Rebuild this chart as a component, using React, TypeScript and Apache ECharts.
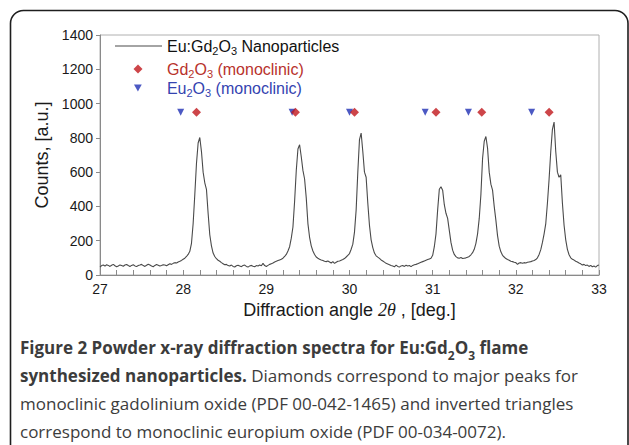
import React, { useEffect, useRef } from 'react';
import * as echarts from 'echarts';

// ---- data ----
const START_ANGLE = 27;
const ANGLE_STEP = 0.02;
// counts at 2θ = 27.00, 27.02, ..., 33.00
const counts = [
  // 27.00 - 27.48
  46, 55, 58, 52, 60, 56, 50, 57, 62, 54, 48, 53, 59, 55, 51, 58, 61, 55, 50, 56, 60, 53, 49, 55, 58,
  // 27.50 - 27.98
  62, 55, 50, 57, 63, 58, 52, 48, 56, 61, 57, 52, 55, 60, 58, 54, 60, 66, 62, 68, 72, 70, 76, 80, 85,
  // 28.00 - 28.48
  92, 98, 108, 120, 138, 185, 300, 470, 650, 770, 802, 720, 600, 538, 500, 360, 235, 170, 128, 108, 95, 86, 80, 72, 66,
  // 28.50 - 28.98
  60, 62, 55, 52, 58, 50, 47, 54, 57, 52, 49, 55, 58, 50, 46, 53, 56, 51, 48, 55, 52, 58, 54, 68, 55,
  // 29.00 - 29.48
  50, 56, 62, 66, 70, 76, 80, 84, 88, 92, 98, 108, 120, 140, 165, 215, 280, 430, 610, 735, 760, 690, 610, 560, 450,
  // 29.50 - 29.98
  300, 220, 170, 140, 120, 105, 98, 92, 88, 85, 80, 78, 82, 76, 70, 78, 68, 74, 80, 82, 86, 90, 96, 105, 115,
  // 30.00 - 30.48
  125, 150, 180, 250, 380, 600, 790, 828, 720, 600, 570, 420, 290, 205, 160, 128, 112, 104, 97, 88, 82, 75, 68, 64, 60,
  // 30.50 - 30.98
  55, 52, 48, 58, 50, 46, 53, 55, 50, 57, 52, 55, 49, 56, 60, 62, 66, 70, 74, 78, 82, 86, 90, 94, 98,
  // 31.00 - 31.48
  115, 165, 240, 380, 500, 515, 495, 410, 360, 330, 260, 190, 145, 120, 107, 100, 98, 102, 96, 98, 100, 104, 108, 118, 130,
  // 31.50 - 31.98
  150, 185, 240, 330, 470, 680, 780, 808, 740, 600, 530, 495, 400, 320, 230, 168, 135, 115, 105, 96, 90, 86, 80, 78, 74,
  // 32.00 - 32.48
  72, 62, 70, 72, 68, 72, 70, 74, 76, 78, 82, 85, 90, 100, 120, 148, 190, 240, 300, 420, 560, 720, 850, 892, 720,
  // 32.50 - 32.98
  600, 570, 585, 420, 290, 205, 150, 118, 100, 92, 87, 80, 76, 70, 65, 58, 62, 55, 58, 50, 56, 48, 52, 46, 55,
  // 33.00
  58,
];

const gdPeaks = [28.16, 29.35, 30.06, 31.04, 31.59, 32.4];
const euPeaks = [27.97, 29.31, 30.0, 30.91, 31.43, 32.19];
const MARKER_LEVEL = 950;

const X_MIN = 27;
const X_MAX = 33;
const X_INTERVAL = 1;
const Y_MIN = 0;
const Y_MAX = 1400;
const Y_INTERVAL = 200;

const SPECTRUM_NAME = 'Eu:Gd2O3 Nanoparticles';
const GD_NAME = 'Gd2O3 (monoclinic)';
const EU_NAME = 'Eu2O3 (monoclinic)';

const X_AXIS_NAME = 'Diffraction angle {i|2θ} , [deg.]';
const Y_AXIS_NAME = 'Counts, [a.u.]';

const CAPTION =
  '{b|Figure 2 Powder x-ray diffraction spectra for Eu:Gd}{bs|2}{b|O}{bs|3}{b| flame}\n' +
  '{b|synthesized nanoparticles.}{r| Diamonds correspond to major peaks for}\n' +
  '{r|monoclinic gadolinium oxide (PDF 00-042-1465) and inverted triangles}\n' +
  '{r|correspond to monoclinic europium oxide (PDF 00-034-0072).}';

const SANS = '"Liberation Sans", Arial, Helvetica, sans-serif';
const CAPTION_FONT = '"Open Sans", "Noto Sans", sans-serif';

const LINE_COLOR = '#4a4a4a';
const GD_COLOR = '#c0161c';
const EU_COLOR = '#1f2fb4';
const GD_TEXT = '#b8322c';
const EU_TEXT = '#3443b0';

const subscript = (name: string) => name.replace(/([A-Za-z])(\d)/g, '$1{s|$2}');

function legendFor(name: string, color: string, pad: number, opts: any) {
  return {
    data: [name],
    orient: 'vertical',
    padding: 0,
    selectedMode: false,
    formatter: (n: string) => (pad > 0 ? '{pad| }' : '') + subscript(n),
    textStyle: {
      color,
      fontFamily: SANS,
      fontSize: 16,
      lineHeight: 20,
      rich: {
        s: { color, fontFamily: SANS, fontSize: 11, lineHeight: 14, verticalAlign: 'bottom' },
        pad: { width: pad, fontSize: 16, lineHeight: 20 },
      },
    },
    ...opts,
  };
}

export default function App() {
  const ref = useRef<HTMLDivElement>(null);

  useEffect(() => {
    if (!ref.current) return;
    const chart = echarts.init(ref.current, undefined, { renderer: 'svg' });

    const spectrum = counts.map((c, i) => [
      Number((START_ANGLE + i * ANGLE_STEP).toFixed(2)),
      c,
    ]);
    const gdData = gdPeaks.map((x) => [x, MARKER_LEVEL]);
    const euData = euPeaks.map((x) => [x, MARKER_LEVEL]);

    const option: any = {
      animation: false,
      backgroundColor: '#ffffff',
      grid: {
        left: 100,
        right: 30,
        top: 35,
        bottom: 170,
        show: true,
        borderColor: '#b0b0b0',
        borderWidth: 1,
        backgroundColor: 'transparent',
      },
      xAxis: {
        type: 'value',
        min: X_MIN,
        max: X_MAX,
        interval: X_INTERVAL,
        name: X_AXIS_NAME,
        nameLocation: 'middle',
        nameGap: 24,
        nameTextStyle: {
          fontFamily: SANS,
          fontSize: 18,
          color: '#1a1a1a',
          rich: {
            i: { fontFamily: '"Liberation Serif", "Times New Roman", serif', fontStyle: 'italic', fontSize: 18, color: '#1a1a1a' },
          },
        },
        axisLine: { show: true, lineStyle: { color: '#8a8a8a', width: 1 } },
        axisTick: { show: true, inside: true, length: 5, lineStyle: { color: '#8a8a8a' } },
        minorTick: { show: true, splitNumber: 5, length: 5, lineStyle: { color: '#8a8a8a' } },
        splitLine: { show: false },
        axisLabel: { fontFamily: SANS, fontSize: 14, color: '#1a1a1a', margin: 7 },
      },
      yAxis: {
        type: 'value',
        min: Y_MIN,
        max: Y_MAX,
        interval: Y_INTERVAL,
        name: Y_AXIS_NAME,
        nameLocation: 'middle',
        nameGap: 43,
        nameTextStyle: { fontFamily: SANS, fontSize: 18, color: '#1a1a1a' },
        axisLine: { show: true, lineStyle: { color: '#8a8a8a', width: 1 } },
        axisTick: { show: true, inside: false, length: 4, lineStyle: { color: '#8a8a8a' } },
        splitLine: { show: false },
        axisLabel: {
          fontFamily: SANS,
          fontSize: 14,
          color: '#1a1a1a',
          margin: 7,
          formatter: (v: number) => String(v),
        },
      },
      legend: [
        legendFor(SPECTRUM_NAME, '#111111', 0, {
          left: 115,
          top: 36,
          itemWidth: 47,
          itemHeight: 1.2,
          icon: 'rect',
          symbolKeepAspect: false,
        }),
        legendFor(GD_NAME, GD_TEXT, 19.5, {
          left: 133.5,
          top: 59,
          itemWidth: 9,
          itemHeight: 9,
          icon: 'diamond',
        }),
        legendFor(EU_NAME, EU_TEXT, 20, {
          left: 134,
          top: 78,
          itemWidth: 8,
          itemHeight: 7,
          icon: 'path://M0,0L10,0L5,9Z',
        }),
      ],
      series: [
        {
          name: SPECTRUM_NAME,
          type: 'line',
          data: spectrum,
          symbol: 'none',
          showSymbol: false,
          lineStyle: { color: LINE_COLOR, width: 1.1 },
          itemStyle: { color: LINE_COLOR },
          z: 2,
        },
        {
          name: EU_NAME,
          type: 'scatter',
          data: euData,
          symbol: 'triangle',
          symbolRotate: 180,
          symbolSize: 7,
          itemStyle: { color: EU_COLOR },
          z: 3,
        },
        {
          name: GD_NAME,
          type: 'scatter',
          data: gdData,
          symbol: 'diamond',
          symbolSize: 9,
          itemStyle: { color: GD_COLOR },
          z: 4,
        },
      ],
      graphic: [
        {
          type: 'rect',
          silent: true,
          z: -10,
          shape: { x: 10.5, y: 10.5, width: 617.5, height: 540, r: 13 },
          style: { fill: 'none', stroke: '#1e1e1e', lineWidth: 1.6 },
        },
        {
          type: 'text',
          silent: true,
          x: 20,
          y: 333,
          style: {
            text: CAPTION,
            verticalAlign: 'top',
            align: 'left',
            font: `17px ${CAPTION_FONT}`,
            fill: '#3c3c3c',
            rich: {
              b: { fontFamily: CAPTION_FONT, fontWeight: 'bold', fontSize: 17, lineHeight: 28, color: '#1c1c1c' },
              bs: { fontFamily: CAPTION_FONT, fontWeight: 'bold', fontSize: 12, lineHeight: 17, verticalAlign: 'bottom', color: '#1c1c1c' },
              r: { fontFamily: CAPTION_FONT, fontSize: 17, lineHeight: 28, color: '#444444' },
            },
          },
        },
      ],
    };

    chart.setOption(option);
    return () => {
      chart.dispose();
    };
  }, []);

  return (
    <div
      ref={ref}
      style={{ position: 'fixed', left: 0, top: 0, width: 629, height: 445, background: '#fff' }}
    />
  );
}
